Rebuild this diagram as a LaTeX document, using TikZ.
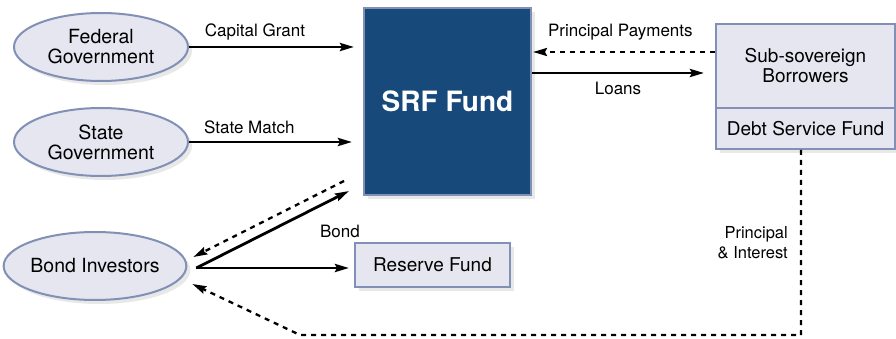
\documentclass[tikz,border=0pt]{standalone}
\usepackage{fontspec}
\setmainfont{TeX Gyre Heros}
\usetikzlibrary{arrows.meta,shapes.geometric,shadows}
\definecolor{srfblue}{HTML}{17497B}
\definecolor{rim}{HTML}{8290B5}
\definecolor{pale}{HTML}{E5E6F0}
\begin{document}
\begin{tikzpicture}[x=1pt,y=-1pt,
  shade/.style={drop shadow={opacity=0.18,shadow xshift=4pt,shadow yshift=-4pt}},
  oval/.style={ellipse,draw=rim,line width=2pt,fill=pale,minimum width=174pt,minimum height=68pt,inner sep=0pt,align=center,font=\fontsize{19.5}{20}\selectfont,shade},
  boxx/.style={rectangle,draw=rim,line width=2pt,fill=pale,inner sep=0pt,align=center,font=\fontsize{19}{20}\selectfont},
  flow/.style={line width=2.8pt,-{Stealth[length=14pt,width=8pt,inset=2pt]}},
  back/.style={line width=2.3pt,dash pattern=on 5pt off 5pt,-{Stealth[length=14pt,width=8pt,inset=2pt]}},
  lbl/.style={font=\fontsize{17}{19}\selectfont,inner sep=0pt}]
\useasboundingbox (0,0) rectangle (896,339);
\fill[white] (0,0) rectangle (896,339);
% nodes
\node[oval] (fed) at (101,47) {Federal\\Government};
\node[oval] (state) at (101,142) {State\\Government};
\node[oval] (bond) at (95,266) {Bond Investors};
\node[rectangle,draw=rim,line width=2pt,fill=srfblue,minimum width=167pt,minimum height=187pt,inner sep=0pt,text=white,font=\fontsize{28}{30}\selectfont\bfseries,shade] (srf) at (447.5,101.5) {SRF Fund};
\node[boxx,minimum width=179pt,minimum height=84pt,shade] (sub) at (805.5,66) {Sub-sovereign\\Borrowers};
\node[boxx,minimum width=179pt,minimum height=41pt,shade] (dsf) at (805.5,128.5) {Debt Service Fund};
\node[boxx,minimum width=155pt,minimum height=44pt,shade] (res) at (432.5,265) {Reserve Fund};
% connectors
\draw[flow] (fed.east) -- ([xshift=-9pt]srf.west |- fed.east)
  node[lbl,pos=0.4,above=5pt] (lcg) {Capital Grant};
\draw[flow] (state.east) -- ([xshift=-11pt]srf.west |- state.east)
  node[lbl,pos=0.37,above=7pt] (lsm) {State Match};
\coordinate (pp) at (sub.west |- 0,52);
\draw[back] (pp) -- ([xshift=1pt]srf.east |- pp)
  node[lbl,pos=0.52,above=11pt] (lpp) {Principal Payments};
\coordinate (ln) at (srf.east |- 0,73);
\draw[flow] (ln) -- ([xshift=-11pt]sub.west |- ln)
  node[lbl,pos=0.5,below=8pt] (lln) {Loans};
\coordinate (bo) at ([xshift=9pt,yshift=-2pt]bond.east);
\draw[flow] (bo) -- ([xshift=-14pt,yshift=5pt]srf.south west);
\draw[flow] (bo) -- ([xshift=-5pt]res.west |- bo);
\node[lbl] (lbond) at (340,231) {Bond};
\draw[back] ([xshift=-19pt,yshift=15pt]srf.south west) -- ([xshift=6pt,yshift=9pt]bond.east);
\coordinate (p1) at (801,335);
\coordinate (p2) at (300,335);
\draw[back] (dsf.south -| p1) -- (p1) -- (p2) -- ([xshift=5pt,yshift=-18pt]bond.east);
\node[lbl,anchor=east,align=right,font=\fontsize{16.5}{20}\selectfont] (lpi) at (788,243) {Principal\\\& Interest};
\end{tikzpicture}
\end{document}
